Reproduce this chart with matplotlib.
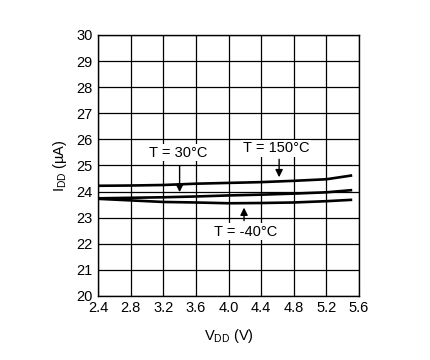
import numpy as np
import matplotlib.pyplot as plt

plt.rcParams['font.family'] = ['Liberation Sans', 'DejaVu Sans']
plt.rcParams['mathtext.default'] = 'regular'

# supply voltage (V)
vdd = [2.4, 2.8, 3.2, 3.6, 4.0, 4.4, 4.8, 5.2, 5.5]
# supply current (uA) per temperature
idd_150 = [24.22, 24.23, 24.25, 24.30, 24.33, 24.36, 24.41, 24.47, 24.61]
idd_30 = [23.74, 23.76, 23.78, 23.81, 23.85, 23.88, 23.92, 23.97, 24.05]
idd_m40 = [23.72, 23.66, 23.60, 23.58, 23.55, 23.56, 23.58, 23.63, 23.68]

xticks = [2.4, 2.8, 3.2, 3.6, 4.0, 4.4, 4.8, 5.2, 5.6]
yticks = list(range(20, 31))

fig = plt.figure(figsize=(4.3, 3.6), dpi=100)
ax = fig.add_axes([0.228, 0.178, 0.607, 0.725])

for y in (idd_150, idd_30, idd_m40):
    ax.plot(vdd, y, color='black', lw=1.9, zorder=3)

ax.set_xlim(2.4, 5.6)
ax.set_ylim(20, 30)
ax.set_xticks(xticks)
ax.set_xticklabels([f'{v:.1f}' for v in xticks])
ax.set_yticks(yticks)
ax.grid(True, color='black', lw=0.9)
ax.tick_params(length=0, labelsize=10.5, pad=4)
for s in ax.spines.values():
    s.set_linewidth(1.0)

ax.set_xlabel('V$_{DD}$ (V)', fontsize=10.5, labelpad=8)
ax.set_ylabel('I$_{DD}$ (µA)', fontsize=10.5, labelpad=5)

arrow = dict(arrowstyle='-|>', color='black', lw=1.0, mutation_scale=11)
box = dict(facecolor='white', edgecolor='none', pad=1)
ax.annotate('', xy=(3.4, 23.87), xytext=(3.4, 25.1), arrowprops=arrow, zorder=4)
ax.text(3.38, 25.49, 'T = 30°C', ha='center', va='center', fontsize=10.5, bbox=box, zorder=4)
ax.annotate('', xy=(4.62, 24.44), xytext=(4.62, 25.34), arrowprops=arrow, zorder=4)
ax.text(4.58, 25.66, 'T = 150°C', ha='center', va='center', fontsize=10.5, bbox=box, zorder=4)
ax.annotate('', xy=(4.19, 23.49), xytext=(4.19, 22.78), arrowprops=arrow, zorder=4)
ax.text(4.21, 22.46, 'T = -40°C', ha='center', va='center', fontsize=10.5, bbox=box, zorder=4)

fig.savefig('out.png', dpi=100)
